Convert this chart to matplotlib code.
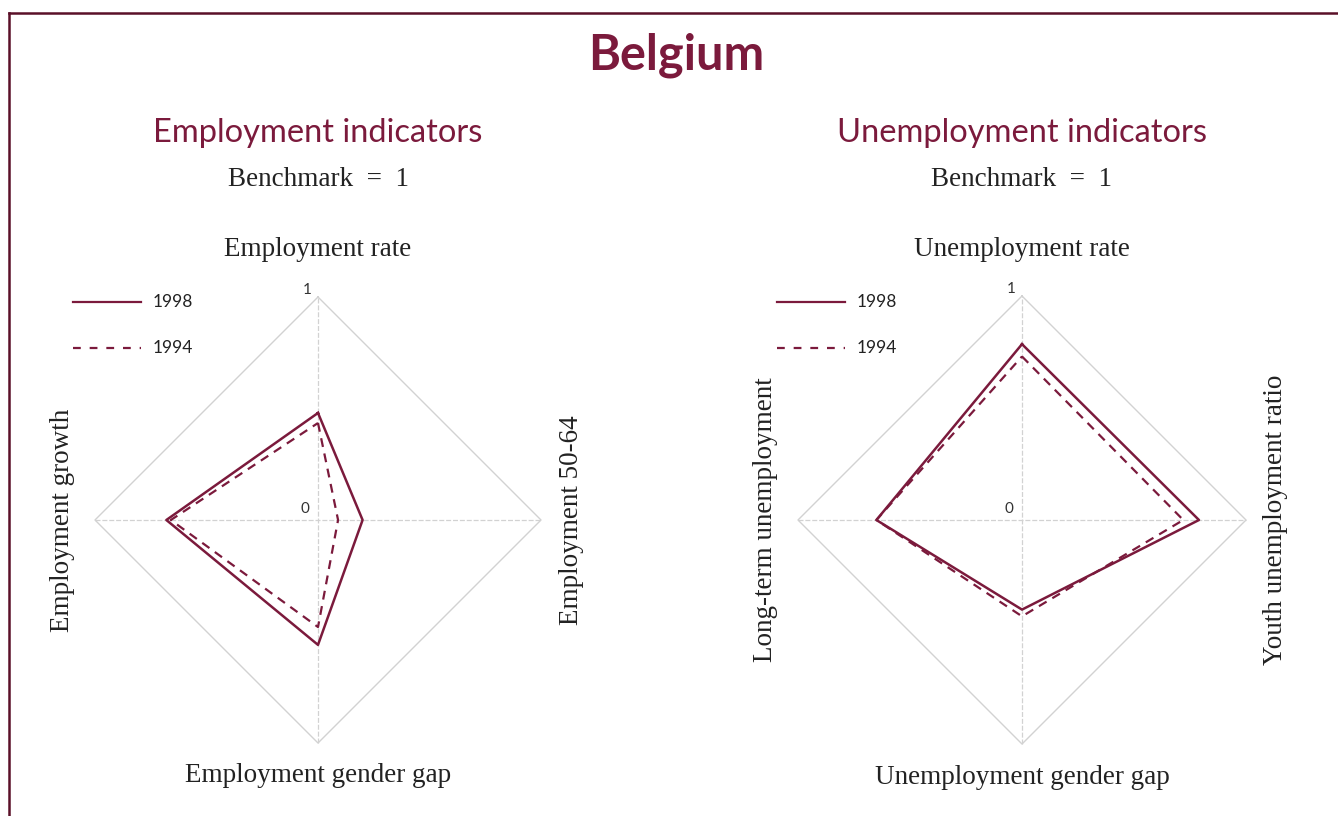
import matplotlib.pyplot as plt
from matplotlib.lines import Line2D

W, H = 1338, 816
maroon = "#7b1a3c"
grid_c = "#d2d2d2"

# axis order: top, right, bottom, left
emp_labels = ["Employment rate", "Employment 50-64", "Employment gender gap", "Employment growth"]
emp_1998 = [0.48, 0.20, 0.56, 0.68]
emp_1994 = [0.435, 0.09, 0.48, 0.66]

unemp_labels = ["Unemployment rate", "Youth unemployment ratio", "Unemployment gender gap", "Long-term unemployment"]
unemp_1998 = [0.785, 0.79, 0.40, 0.65]
unemp_1994 = [0.73, 0.72, 0.43, 0.65]

years = ["1998", "1994"]

fig = plt.figure(figsize=(W / 100, H / 100), dpi=100)
fig.patch.set_facecolor("white")

def fx(x):
    return x / W

def fy(y):
    return 1 - y / H

serif = "Liberation Serif"
sans = "Lato"
lab_fs = 19.5

# frame (top and left edge)
fig.add_artist(Line2D([fx(9), fx(1338)], [fy(13), fy(13)], color="#5a1028", lw=1.8))
fig.add_artist(Line2D([fx(9), fx(9)], [fy(13), fy(816)], color="#5a1028", lw=1.8))

fig.text(fx(676), fy(55), "Belgium", ha="center", va="center", fontsize=35,
         fontweight="bold", color=maroon, family=sans)


def diamond(v):
    # top, right, bottom, left -> x, y
    xs = [0, v[1], 0, -v[3], 0]
    ys = [v[0], 0, -v[2], 0, v[0]]
    return xs, ys


def radar(cx, cy, R, title, labels, v98, v94):
    ax = fig.add_axes([fx(cx - R), fy(cy + R), R * 2 / W, R * 2 / H])
    ax.set_xlim(-1, 1)
    ax.set_ylim(-1, 1)
    ax.axis("off")
    ox, oy = diamond([1, 1, 1, 1])
    ax.plot(ox, oy, color=grid_c, lw=1.0, clip_on=False)
    ax.plot([0, 0], [-1, 1], color=grid_c, lw=0.9, ls=(0, (4, 1.5)), clip_on=False)
    ax.plot([-1, 1], [0, 0], color=grid_c, lw=0.9, ls=(0, (4, 1.5)), clip_on=False)
    x, y = diamond(v98)
    ax.plot(x, y, color=maroon, lw=1.8, clip_on=False)
    x, y = diamond(v94)
    ax.plot(x, y, color=maroon, lw=1.6, ls=(0, (4, 3)), clip_on=False)
    ax.text(-0.05, 1.0, "1", ha="center", va="bottom", fontsize=11, family=sans, color="#333333")
    ax.text(-0.06, 0.02, "0", ha="center", va="bottom", fontsize=11, family=sans, color="#333333")

    fig.text(fx(cx), fy(133), title, ha="center", va="center", fontsize=23.5,
             color=maroon, family=sans)
    fig.text(fx(cx), fy(180), "Benchmark  =  1", ha="center", va="center", fontsize=lab_fs,
             color="#222222", family=serif)
    fig.text(fx(cx), fy(249), labels[0], ha="center", va="center", fontsize=lab_fs,
             color="#222222", family=serif)
    fig.text(fx(cx), fy(cy + R + 33), labels[2], ha="center", va="center", fontsize=lab_fs,
             color="#222222", family=serif)
    fig.text(fx(cx + R + 30), fy(cy), labels[1], ha="center", va="center", fontsize=lab_fs,
             rotation=90, color="#222222", family=serif)
    fig.text(fx(cx - R - 32), fy(cy), labels[3], ha="center", va="center", fontsize=lab_fs,
             rotation=90, color="#222222", family=serif)

    # legend
    lx = cx - 245
    fig.add_artist(Line2D([fx(lx), fx(lx + 68)], [fy(302), fy(302)], color=maroon, lw=1.6))
    fig.add_artist(Line2D([fx(lx), fx(lx + 68)], [fy(348), fy(348)], color=maroon, lw=1.6,
                          ls=(0, (3.5, 4))))
    fig.text(fx(lx + 80), fy(302), years[0], ha="left", va="center", fontsize=12.5,
             color="#222222", family=sans)
    fig.text(fx(lx + 80), fy(348), years[1], ha="left", va="center", fontsize=12.5,
             color="#222222", family=sans)


radar(318, 520, 223, "Employment indicators", emp_labels, emp_1998, emp_1994)
radar(1022, 520, 224, "Unemployment indicators", unemp_labels, unemp_1998, unemp_1994)

fig.savefig("out.png", dpi=100)
